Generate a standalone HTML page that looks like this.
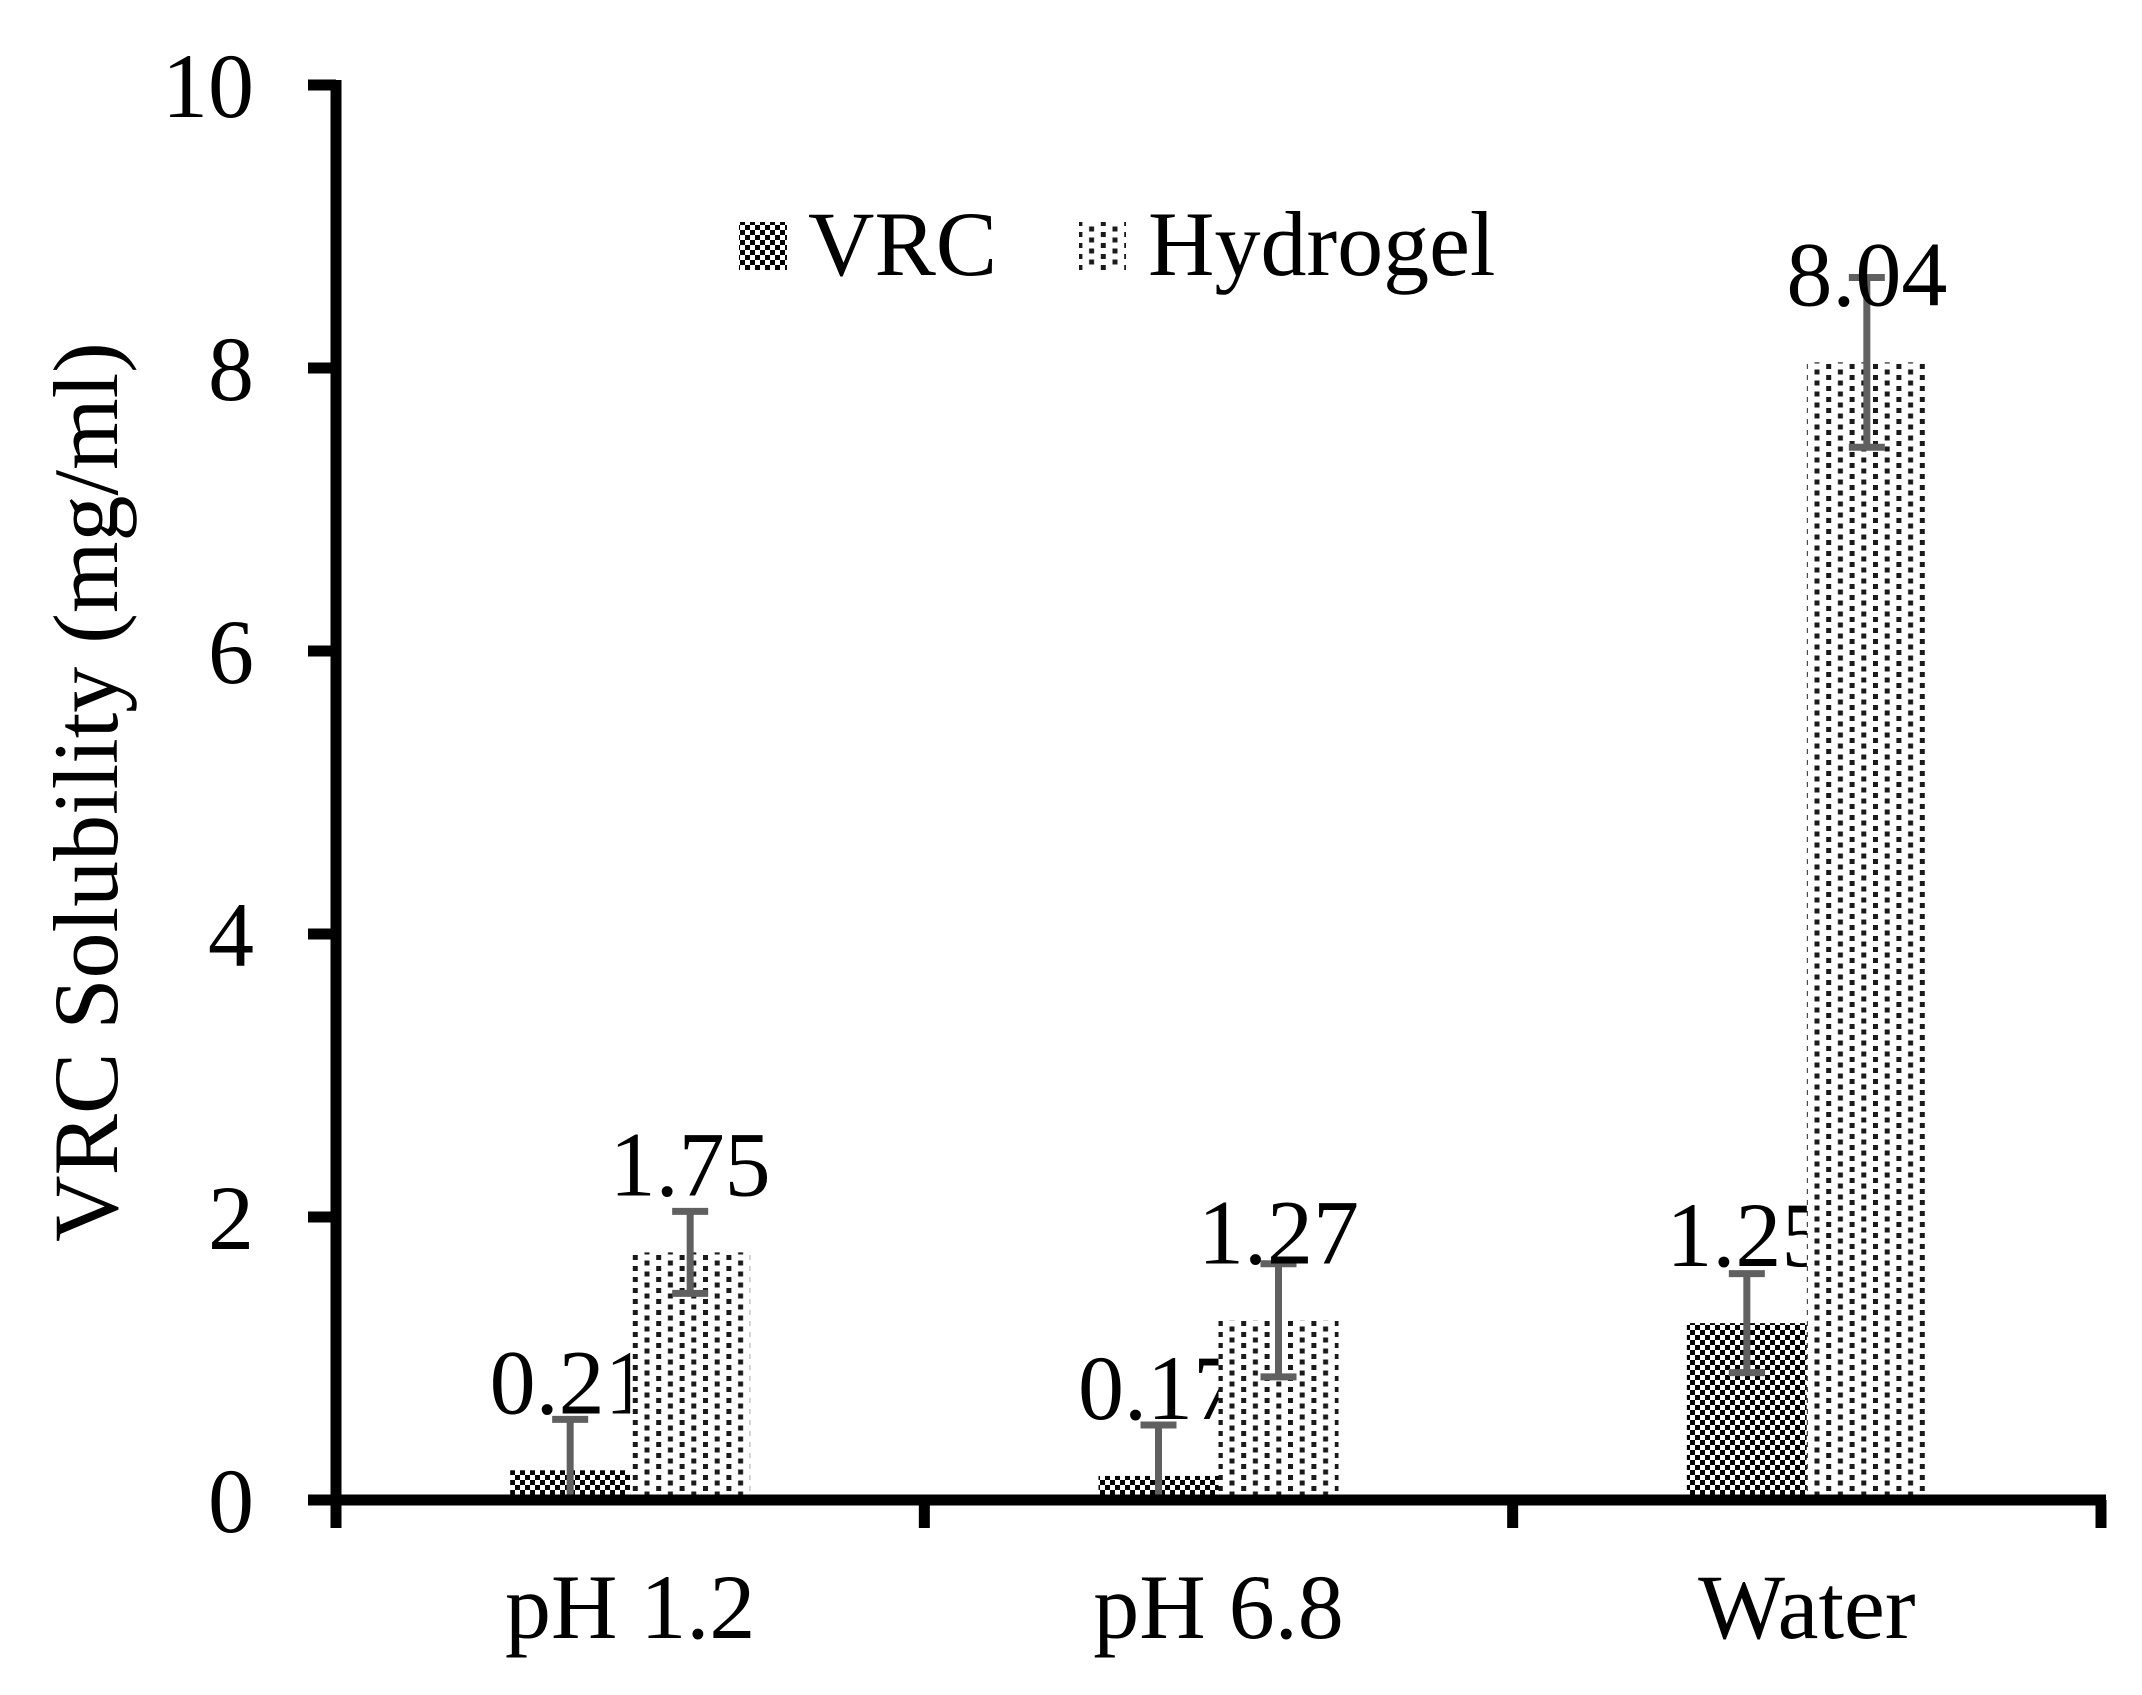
<!DOCTYPE html>
<html><head><meta charset="utf-8">
<style>
html,body{margin:0;padding:0;background:#fff;}
svg{display:block;}
text{font-family:"Liberation Serif","Times New Roman",serif;fill:#000;}
</style></head>
<body>
<svg id="chart" width="2142" height="1695" viewBox="0 0 2142 1695" xmlns="http://www.w3.org/2000/svg">
<defs>
<pattern id="checker" patternUnits="userSpaceOnUse" width="10" height="10">
<rect width="10" height="10" fill="#fff"/>
<rect x="0" y="0" width="5" height="5" fill="#000"/>
<rect x="5" y="5" width="5" height="5" fill="#000"/>
</pattern>
<pattern id="dots" patternUnits="userSpaceOnUse" width="23.4" height="11">
<rect width="23.4" height="11" fill="#fff"/>
<rect x="1" y="1" width="5" height="5" fill="#1a1a1a"/>
<rect x="12.7" y="6.5" width="5" height="5" fill="#1a1a1a"/>
<rect x="12.7" y="-4.5" width="5" height="5" fill="#1a1a1a"/>
</pattern>
</defs>
<g id="plot"></g>
</svg>
<script>
const categories = ["pH 1.2", "pH 6.8", "Water"];
const vrcValues = [0.21, 0.17, 1.25];
const hydrogelValues = [1.75, 1.27, 8.04];
const vrcErrors = [0.36, 0.36, 0.35];
const hydrogelErrors = [0.29, 0.40, 0.60];
const vrcLabels = ["0.21", "0.17", "1.25"];
const hydrogelLabels = ["1.75", "1.27", "8.04"];
const yTicks = [0, 2, 4, 6, 8, 10];

const NS = "http://www.w3.org/2000/svg";
const g = document.getElementById("plot");
const X0 = 336, X1 = 2101, Y0 = 1500, YMAX = 10, PXU = 141.5, BW = 120;
const bandW = (X1 - X0) / categories.length;
function yScale(v){ return Y0 - v * PXU; }
function xCenter(i){ return X0 + bandW * (i + 0.5); }
function mk(tag, attrs){ const e = document.createElementNS(NS, tag); for (const k in attrs) e.setAttribute(k, attrs[k]); g.appendChild(e); return e; }

function drawSeries(vals, errs, labels, fill, offset, name){
  vals.forEach((v, i) => {
    const x = xCenter(i) + offset;
    const r = mk("rect", {x: x, y: yScale(v), width: BW, height: Y0 - yScale(v), fill: fill});
    
    
    const cx = x + BW / 2;
    const top = yScale(v + errs[i]), bot = yScale(Math.max(0, v - errs[i]));
    const eb = mk("path", {d: `M${cx-18},${top}H${cx+18}M${cx},${top}V${bot}` + (v - errs[i] > 0 ? `M${cx-18},${bot}H${cx+18}` : ''), stroke: "#606060", "stroke-width": 7, fill: "none"});
    
    
    const t = mk("text", {x: cx, y: yScale(v) - 57, "font-size": 92, "text-anchor": "middle"});
    t.textContent = labels[i];
    
    
  });
}
drawSeries(vrcValues, vrcErrors, vrcLabels, "url(#checker)", -BW, "vrc");
drawSeries(hydrogelValues, hydrogelErrors, hydrogelLabels, "url(#dots)", 0, "hydrogel");

const ya = mk("line", {x1: X0, y1: yScale(YMAX) - 5, x2: X0, y2: 1528, stroke: "#000", "stroke-width": 11});


const xa = mk("line", {x1: 308, y1: Y0, x2: X1 + 5, y2: Y0, stroke: "#000", "stroke-width": 11});


yTicks.forEach(v => {
  const y = yScale(v);
  const tk = mk("line", {x1: 308, y1: y, x2: X0, y2: y, stroke: "#000", "stroke-width": 11});
  
  
  const t = mk("text", {x: 254, y: y + 32, "font-size": 92, "text-anchor": "end"});
  t.textContent = String(v);
  
  
});
for (let i = 0; i <= categories.length; i++) {
  const x = X0 + bandW * i;
  const tk = mk("line", {x1: x, y1: Y0, x2: x, y2: 1528, stroke: "#000", "stroke-width": 11});
  
  
}
categories.forEach((c, i) => {
  const t = mk("text", {x: xCenter(i), y: 1638, "font-size": 92, "text-anchor": "middle"});
  t.textContent = c;
  
  
});
const yt = mk("text", {x: 0, y: 0, "font-size": 92, "text-anchor": "middle", transform: "translate(117,792) rotate(-90)"});
yt.textContent = "VRC Solubility (mg/ml)";



const s1 = mk("rect", {x: 739, y: 222, width: 48, height: 48, fill: "url(#checker)"});


const l1 = mk("text", {x: 808, y: 275, "font-size": 92});
l1.textContent = "VRC";


const s2 = mk("rect", {x: 1079, y: 222, width: 47, height: 48, fill: "url(#dots)"});


const l2 = mk("text", {x: 1148, y: 275, "font-size": 92});
l2.textContent = "Hydrogel";


</script>
</body></html>
